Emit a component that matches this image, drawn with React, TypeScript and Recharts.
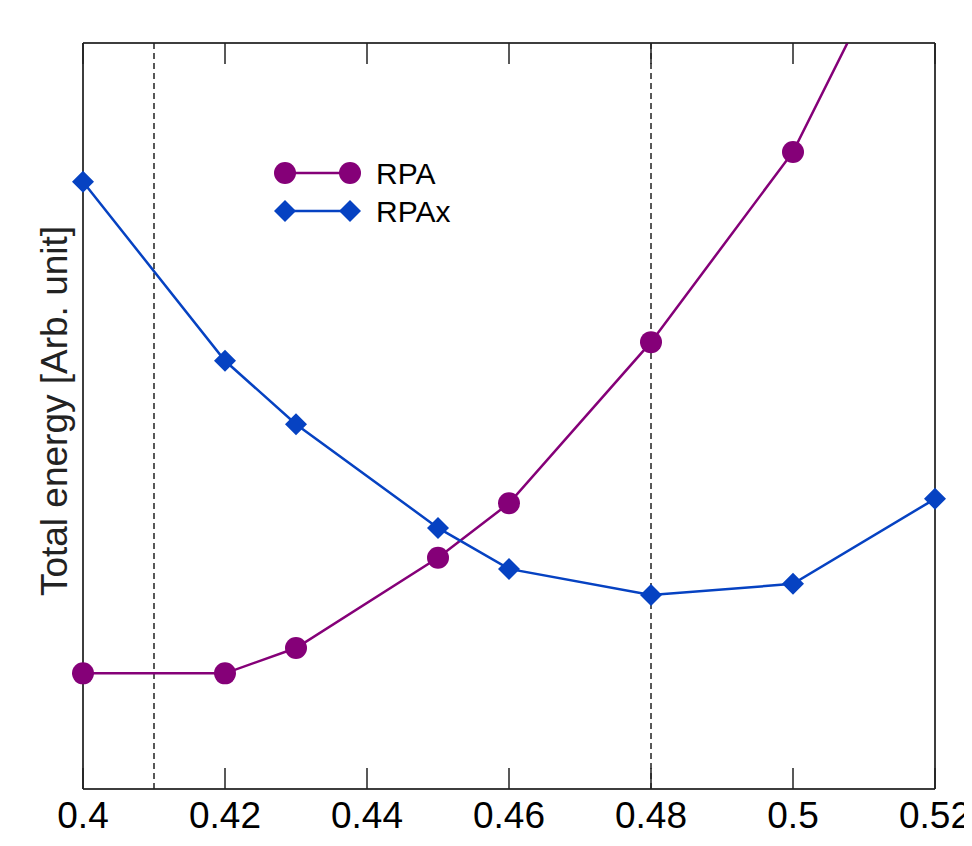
import { LineChart, Line, XAxis, YAxis, ReferenceLine } from 'recharts'

const alpha = [0.4, 0.42, 0.43, 0.45, 0.46, 0.48, 0.5, 0.52]
const rpa = [15.5, 15.5, 18.9, 31.0, 38.3, 59.9, 85.4, 123.5]
const rpax = [81.4, 57.4, 48.9, 35.0, 29.5, 26.0, 27.5, 38.9]
const xTicks = [0.4, 0.42, 0.44, 0.46, 0.48, 0.5, 0.52]
const markers = [0.41, 0.48]
const xRange = [0.4, 0.52]
const yRange = [0, 100]

const data = alpha.map((a, i) => ({ alpha: a, rpa: rpa[i], rpax: rpax[i] }))

const FONT = '"Liberation Sans", Arial, Helvetica, sans-serif'
const PURPLE = '#850078'
const BLUE = '#0642c2'
const AXIS = '#222'

const BottomTick = (props: any) => {
  const { x, y, payload } = props
  return (
    <g>
      <line x1={x} x2={x} y1={y} y2={y - 21} stroke={AXIS} strokeWidth={1.5} />
      <text x={x} y={y + 39} textAnchor="middle" fontSize={37} fontFamily={FONT} fill="#000">
        {String(payload.value)}
      </text>
    </g>
  )
}

const TopTick = (props: any) => {
  const { x, y } = props
  return <line x1={x} x2={x} y1={y} y2={y + 21} stroke={AXIS} strokeWidth={1.5} />
}

const Diamond = (props: any) => {
  const { cx, cy } = props
  if (cx == null || cy == null) return null
  const r = 11
  return <polygon points={`${cx},${cy - r} ${cx + r},${cy} ${cx},${cy + r} ${cx - r},${cy}`} fill={BLUE} />
}

const Circle = (props: any) => {
  const { cx, cy } = props
  if (cx == null || cy == null) return null
  return <circle cx={cx} cy={cy} r={11} fill={PURPLE} />
}

const YLabel = (props: any) => {
  const { viewBox } = props
  const cx = 46
  const cy = viewBox.y + viewBox.height / 2 - 5
  return (
    <text x={cx} y={cy} transform={`rotate(-90, ${cx}, ${cy})`} textAnchor="middle" dominantBaseline="central" fontSize={37} fontFamily={FONT} fill="#222">
      Total energy [Arb. unit]
    </text>
  )
}

const XLabel = (props: any) => {
  const { viewBox } = props
  return (
    <text x={viewBox.x + viewBox.width / 2 - 4} y={viewBox.y + 78} textAnchor="middle" fontSize={37} fontFamily={FONT} fill="#000">
      α
    </text>
  )
}

export default function App() {
  return (
    <div style={{ position: 'relative', width: 964, height: 838 }}>
      <LineChart width={964} height={838} data={data} margin={{ top: 0, right: 0, left: 0, bottom: 0 }}>
        <XAxis
          xAxisId="bottom"
          dataKey="alpha"
          type="number"
          domain={xRange}
          ticks={xTicks}
          interval={0}
          height={57}
          tickSize={0}
          tickMargin={0}
          tickLine={false}
          tick={<BottomTick />}
          stroke={AXIS}
          label={<XLabel />}
        />
        <XAxis
          xAxisId="top"
          orientation="top"
          dataKey="alpha"
          type="number"
          domain={xRange}
          ticks={xTicks}
          interval={0}
          height={35}
          tickSize={0}
          tickMargin={0}
          tickLine={false}
          tick={<TopTick />}
          stroke={AXIS}
        />
        <YAxis
          yAxisId="left"
          type="number"
          domain={yRange}
          allowDataOverflow
          width={75}
          tick={false}
          tickLine={false}
          stroke={AXIS}
          label={<YLabel />}
        />
        <YAxis
          yAxisId="right"
          orientation="right"
          type="number"
          domain={yRange}
          width={37}
          tick={false}
          tickLine={false}
          stroke={AXIS}
        />
        {xRange.map((v) => (
          <ReferenceLine key={'fx' + v} x={v} xAxisId="bottom" yAxisId="left" stroke={AXIS} strokeWidth={1.5} />
        ))}
        {yRange.map((v) => (
          <ReferenceLine key={'fy' + v} y={v} xAxisId="bottom" yAxisId="left" stroke={AXIS} strokeWidth={1.5} />
        ))}
        {markers.map((m) => (
          <ReferenceLine key={m} x={m} xAxisId="bottom" yAxisId="left" stroke="#222" strokeWidth={1.5} strokeDasharray="6 4" />
        ))}
        <Line
          xAxisId="bottom"
          yAxisId="left"
          dataKey="rpa"
          stroke={PURPLE}
          strokeWidth={2.5}
          dot={<Circle />}
          activeDot={false}
          isAnimationActive={false}
        />
        <Line
          xAxisId="bottom"
          yAxisId="left"
          dataKey="rpax"
          stroke={BLUE}
          strokeWidth={2.5}
          dot={<Diamond />}
          activeDot={false}
          isAnimationActive={false}
        />
      </LineChart>
      <svg width={230} height={90} style={{ position: 'absolute', left: 260, top: 140 }}>
        <line x1={17} x2={82} y1={25} y2={25} stroke={PURPLE} strokeWidth={2.5} />
        <circle cx={17} cy={25} r={11} fill={PURPLE} />
        <circle cx={82} cy={25} r={11} fill={PURPLE} />
        <text x={108} y={25} dominantBaseline="central" fontSize={30} fontFamily={FONT} fill="#000">RPA</text>
        <line x1={17} x2={82} y1={63} y2={63} stroke={BLUE} strokeWidth={2.5} />
        <polygon points="17,52 28,63 17,74 6,63" fill={BLUE} />
        <polygon points="82,52 93,63 82,74 71,63" fill={BLUE} />
        <text x={108} y={63} dominantBaseline="central" fontSize={30} fontFamily={FONT} fill="#000">RPAx</text>
      </svg>
    </div>
  )
}
